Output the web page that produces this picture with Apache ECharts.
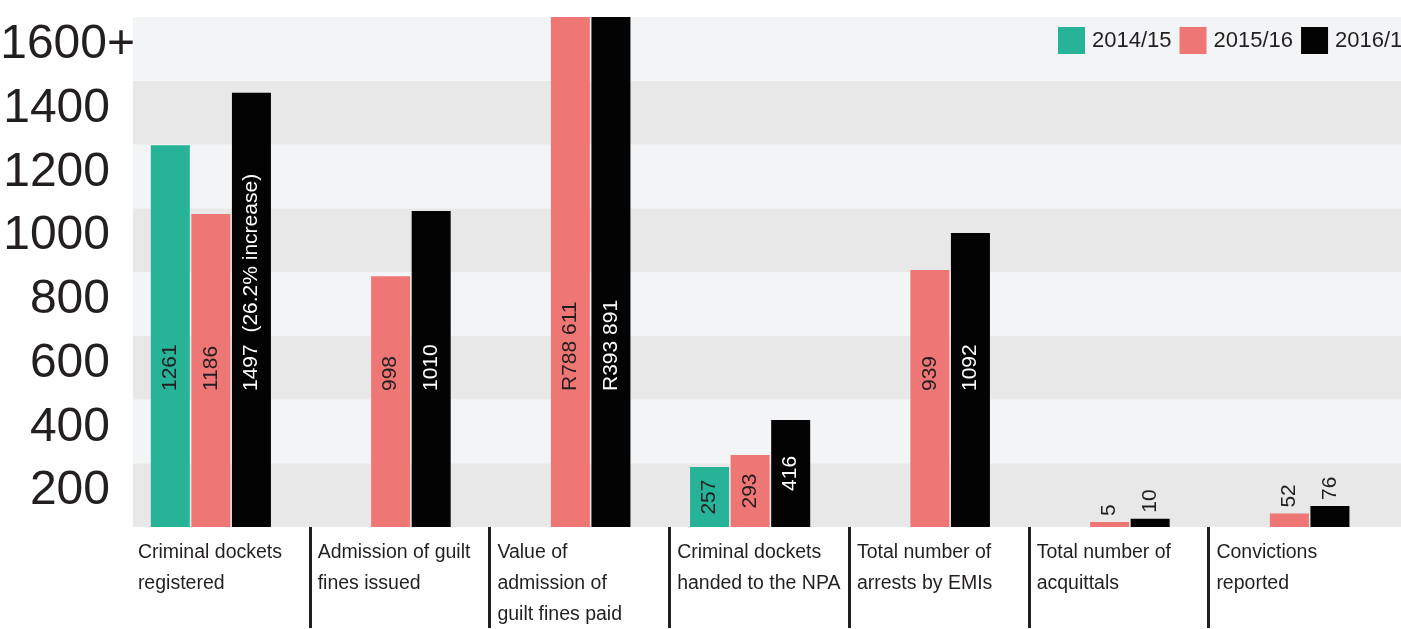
<!DOCTYPE html>
<html><head><meta charset="utf-8">
<script src="https://cdn.jsdelivr.net/npm/echarts@6/dist/echarts.min.js"></script>
<style>html,body{margin:0;padding:0;background:#fff}#c{width:1401px;height:629px}</style>
</head><body><div id="c"></div>
<script>
// ---- data ----
const categories = ['Criminal dockets\nregistered', 'Admission of guilt\nfines issued', 'Value of\nadmission of\nguilt fines paid', 'Criminal dockets\nhanded to the NPA', 'Total number of\narrests by EMIs', 'Total number of\nacquittals', 'Convictions\nreported'];
const seriesNames = ['2014/15', '2015/16', '2016/17'];
// bar heights as drawn against the y axis
const values2014 = [1198, null, null, 188, null, null, null];
const values2015 = [982, 787, 1600, 226, 806, 16, 42];
const values2016 = [1362, 991, 1600, 336, 922, 26, 66];
// printed value labels
const labels2014 = ['1261', '', '', '257', '', '', ''];
const labels2015 = ['1186', '998', 'R788 611', '293', '939', '5', '52'];
const labels2016 = ['1497  (26.2% increase)', '1010', 'R393 891', '416', '1092', '10', '76'];
const yTickLabels = ['200', '400', '600', '800', '1000', '1200', '1400', '1600+'];

// ---- styling ----
const FONT = "'Liberation Sans', Arial, sans-serif";
const TEXT = '#231f20';
const colors = ['#27b398', '#ee7674', '#030303'];
const labelColors = [TEXT, TEXT, '#ffffff'];
const labelMode = ['base', 'base', 'base', 'center', 'base', 'above', 'above'];

// one trailing empty slot so the axis' closing tick falls outside the canvas
const axisCats = categories.concat(['']);

function buildData(values, labels, sIdx) {
  const out = values.map((v, i) => {
    if (v == null) return null;
    const m = labelMode[i];
    let label;
    if (m === 'base') {
      label = { show: true, position: 'insideBottom', distance: 136, rotate: 90, align: 'left', verticalAlign: 'middle', color: labelColors[sIdx] };
    } else if (m === 'center') {
      label = { show: true, position: 'inside', rotate: 90, align: 'center', verticalAlign: 'middle', color: labelColors[sIdx] };
    } else {
      label = { show: true, position: 'top', distance: 6, rotate: 90, align: 'left', verticalAlign: 'middle', color: TEXT };
    }
    label.formatter = labels[i];
    label.fontSize = 21;
    label.fontFamily = FONT;
    return { value: v, label };
  });
  out.push(null);
  return out;
}

const chart = echarts.init(document.getElementById('c'), null, { renderer: 'canvas' });
const valuesAll = [values2014, values2015, values2016];
const labelsAll = [labels2014, labels2015, labels2016];

chart.setOption({
  animation: false,
  backgroundColor: '#ffffff',
  legend: {
    data: seriesNames,
    left: 1053, top: 22, width: 600,
    itemWidth: 27, itemHeight: 27, itemGap: 8,
    icon: 'rect',
    textStyle: { fontSize: 22, color: TEXT, fontFamily: FONT, padding: [0, 0, 0, 2] }
  },
  grid: [
    { left: 133, right: 0, top: 17, bottom: 102, outerBoundsMode: 'none', containLabel: false },
    { left: 121, right: -158, top: 17, bottom: 102, outerBoundsMode: 'none', containLabel: false },
    { left: 130, right: -167, top: 17, bottom: 102, outerBoundsMode: 'none', containLabel: false }
  ],
  xAxis: [
    { type: 'value', gridIndex: 0, min: 0, max: 1, show: false },
    { type: 'category', gridIndex: 1, data: axisCats, show: false },
    {
      type: 'category', gridIndex: 2, data: axisCats,
      axisLine: { show: false },
      axisTick: { show: true, length: 101, interval: (i) => i > 0 && i < categories.length, lineStyle: { color: TEXT, width: 3 } },
      axisLabel: {
        margin: 10, width: 164, align: 'center', interval: 0,
        formatter: (v) => v ? v.split('\n').map(l => '{t|' + l + '}').join('\n') : '',
        rich: { t: { align: 'left', fontSize: 19.5, lineHeight: 31, color: TEXT, fontFamily: FONT } }
      }
    }
  ],
  yAxis: [
    {
      type: 'value', gridIndex: 0, position: 'left', min: 0, max: 1600, interval: 200,
      axisLine: { show: false }, axisTick: { show: false }, axisLabel: { show: false },
      splitLine: { show: false },
      splitArea: { show: true, areaStyle: { color: ['#e8e8e8', '#f3f4f6'] } }
    },
    {
      type: 'value', gridIndex: 0, position: 'left', min: 0, max: 1600, interval: 100,
      axisLine: { show: false }, axisTick: { show: false }, splitLine: { show: false },
      axisLabel: {
        margin: -2, align: 'right', padding: [0, 0, 8, 0],
        formatter: (v) => {
          const k = (v - 100) / 200;
          if (!Number.isInteger(k) || k < 0 || k >= yTickLabels.length) return '';
          const t = yTickLabels[k];
          return t.endsWith('+') ? '{a|' + t + '}' : '{a|' + t + '}{p| }';
        },
        rich: {
          a: { fontSize: 48, color: TEXT, fontFamily: FONT },
          p: { width: 25, fontSize: 48, fontFamily: FONT }
        }
      }
    },
    { type: 'value', gridIndex: 1, position: 'left', min: 0, max: 1600, show: false },
    { type: 'value', gridIndex: 2, position: 'left', min: 0, max: 1600, show: false }
  ],
  series: seriesNames.map((name, s) => ({
    name, type: 'bar', xAxisIndex: 1, yAxisIndex: 2,
    barWidth: 39, barGap: '4%',
    itemStyle: { color: colors[s] },
    data: buildData(valuesAll[s], labelsAll[s], s)
  }))
});
</script></body></html>
